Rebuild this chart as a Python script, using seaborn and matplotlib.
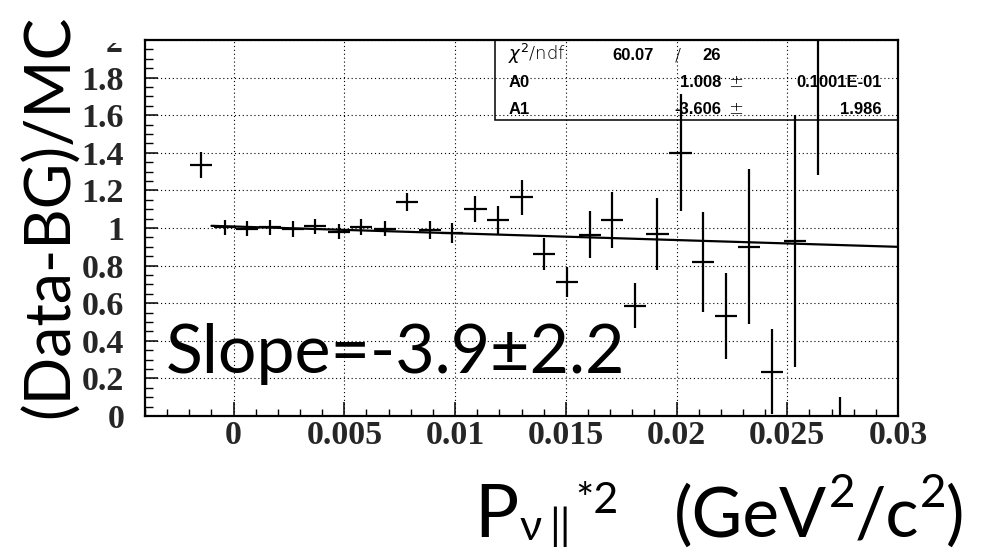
import numpy as np
import pandas as pd
import matplotlib
matplotlib.use("Agg")
import matplotlib.pyplot as plt
from matplotlib.patches import Rectangle
from matplotlib.transforms import Bbox, TransformedBbox
import seaborn as sns

# bin centres (GeV^2/c^2), ratio and its error
x_centres = [-0.00146, -0.0004, 0.00062, 0.00166, 0.00268, 0.00369, 0.00476, 0.00577,
             0.00682, 0.00783, 0.00885, 0.00988, 0.01092, 0.01194, 0.0130, 0.0140,
             0.01505, 0.01608, 0.01709, 0.01811, 0.01914, 0.02018, 0.0212, 0.02225,
             0.02328, 0.02432, 0.02534, 0.02639, 0.02739]
ratio = [1.335, 1.004, 0.995, 1.004, 0.993, 1.01, 0.98, 1.004,
         0.997, 1.137, 0.989, 0.972, 1.099, 1.043, 1.163, 0.862,
         0.713, 0.965, 1.043, 0.587, 0.968, 1.401, 0.817, 0.532,
         0.90, 0.236, 0.931, 2.25, -0.5]
ratio_err = [0.07, 0.039, 0.04, 0.04, 0.043, 0.04, 0.04, 0.042,
             0.04, 0.047, 0.05, 0.053, 0.069, 0.075, 0.093, 0.084,
             0.082, 0.127, 0.148, 0.121, 0.192, 0.31, 0.266, 0.229,
             0.412, 0.225, 0.67, 0.97, 0.6]
half_bin = 0.0005

# straight line fit
fit_range = [-0.001, 0.03]
A0, A0_err = 1.008, "0.1001E-01"
A1, A1_err = -3.606, "1.986"
chi2, ndf = "60.07", "26"

x_ticks = [0, 0.005, 0.01, 0.015, 0.02, 0.025, 0.03]
x_ticklabels = ["0", "0.005", "0.01", "0.015", "0.02", "0.025", "0.03"]
y_ticks = [0, 0.2, 0.4, 0.6, 0.8, 1.0, 1.2, 1.4, 1.6, 1.8, 2.0]
y_ticklabels = ["0", "0.2", "0.4", "0.6", "0.8", "1", "1.2", "1.4", "1.6", "1.8", ""]

sns.set_theme(style="white")
plt.rcParams["font.family"] = ["Lato", "DejaVu Sans"]

W, H = 990, 552
fig = plt.figure(figsize=(W / 100, H / 100), dpi=100)
ax = fig.add_axes([145 / W, 1 - 416 / H, (898 - 145) / W, (416 - 40) / H])
renderer = fig.canvas.get_renderer()

def fx(px):
    return px / W

def fy(py):
    return 1 - py / H

def place(px, py, s, size):
    # text with its left edge at px, baseline at py; returns right edge in px
    t = fig.text(fx(px), fy(py), s, ha="left", va="baseline", size=size, color="black")
    return px + t.get_window_extent(renderer).width

# fit line through seaborn
fit_df = pd.DataFrame({"x": fit_range,
                       "y": [A0 + A1 * v for v in fit_range]})
sns.lineplot(data=fit_df, x="x", y="y", ax=ax, color="black", lw=1.6, zorder=3)

ax.errorbar(x_centres, ratio, xerr=half_bin, yerr=ratio_err, fmt="none",
            ecolor="black", elinewidth=1.6, capsize=0, zorder=4)

ax.set_xlim(-0.004, 0.03)
ax.set_ylim(0, 2)
ax.set_xlabel("")
ax.set_ylabel("")

ax.set_xticks(x_ticks)
ax.set_xticklabels(x_ticklabels)
ax.set_xticks(np.arange(-0.004, 0.0301, 0.001), minor=True)
ax.set_yticks(y_ticks)
ax.set_yticklabels(y_ticklabels)
ax.set_yticks(np.arange(0, 2.001, 0.05), minor=True)

tick_font = dict(family="Liberation Serif", weight="bold", size=24.5)
for lbl in ax.get_xticklabels() + ax.get_yticklabels():
    lbl.set_fontproperties(matplotlib.font_manager.FontProperties(**tick_font))

ax.tick_params(axis="x", which="major", direction="in", length=10, width=1.1,
               pad=3, bottom=True, top=False, color="black")
ax.tick_params(axis="x", which="minor", direction="in", length=5, width=1.0,
               bottom=True, top=False, color="black")
ax.tick_params(axis="y", which="major", direction="in", length=9, width=1.1,
               pad=15, left=True, right=False, color="black")
ax.tick_params(axis="y", which="minor", direction="in", length=5.5, width=1.0,
               left=True, right=False, color="black")

ax.grid(True, which="major", color="black", linestyle=(0, (1, 2.5)), linewidth=0.8)
for sp in ax.spines.values():
    sp.set_color("black")
    sp.set_linewidth(1.6)

# "2" at the top of the y axis, cut off like in the original
top_lbl = fig.text(fx(123), fy(52), "2", ha="right", va="baseline", **tick_font)
top_lbl.set_clip_on(True)
top_lbl.set_clip_box(TransformedBbox(Bbox.from_extents(0, 0, 1, fy(42.5)), fig.transFigure))

# stat box
ax.add_patch(Rectangle(((495 - 145) / (898 - 145), (416 - 120) / 376),
                       1 - (495 - 145) / (898 - 145), 1 - (416 - 120) / 376,
                       transform=ax.transAxes, fill=False, edgecolor="black",
                       lw=1.1, zorder=5, clip_on=False))
bold = dict(family="Liberation Sans", weight="bold", size=12, color="black")
thin = dict(family="DejaVu Sans", weight="light", size=13, color="black")
fig.text(fx(508), fy(60), r"$\chi^{2}$/ndf", ha="left", va="baseline", **thin)
fig.text(fx(654), fy(60), chi2, ha="right", va="baseline", **bold)
fig.text(fx(678), fy(60), "/", ha="center", va="baseline", **thin)
fig.text(fx(702), fy(60), ndf, ha="left", va="baseline", **bold)
fig.text(fx(509), fy(87), "A0", ha="left", va="baseline", **bold)
fig.text(fx(721), fy(87), f"{A0:.3f}", ha="right", va="baseline", **bold)
fig.text(fx(736), fy(87), "±", ha="center", va="baseline", **thin)
fig.text(fx(882), fy(87), A0_err, ha="right", va="baseline", **bold)
fig.text(fx(509), fy(114), "A1", ha="left", va="baseline", **bold)
fig.text(fx(721), fy(114), f"{A1:.3f}", ha="right", va="baseline", **bold)
fig.text(fx(736), fy(114), "±", ha="center", va="baseline", **thin)
fig.text(fx(882), fy(114), A1_err, ha="right", va="baseline", **bold)

# big annotations
fig.text(fx(166), fy(373), "Slope=-3.9±2.2", ha="left", va="baseline",
         size=49, color="black", zorder=6)
fig.text(fx(50), fy(216), "(Data-BG)/MC", rotation=90, ha="center", va="center",
         size=45, color="black")

# x axis title, laid out piece by piece
r = place(474, 537, "P", 53)
r = place(r + 1, 540, "ν", 31)
r = place(r + 8, 540, "||", 31)
place(r + 4, 513, "*2", 31)
r = place(674, 537, "(GeV", 50)
r = place(r + 2, 507, "2", 33)
r = place(r - 1, 537, "/c", 50)
r = place(r + 1, 507, "2", 33)
place(r - 1, 537, ")", 50)

fig.savefig("out.png", dpi=100, facecolor="white")
